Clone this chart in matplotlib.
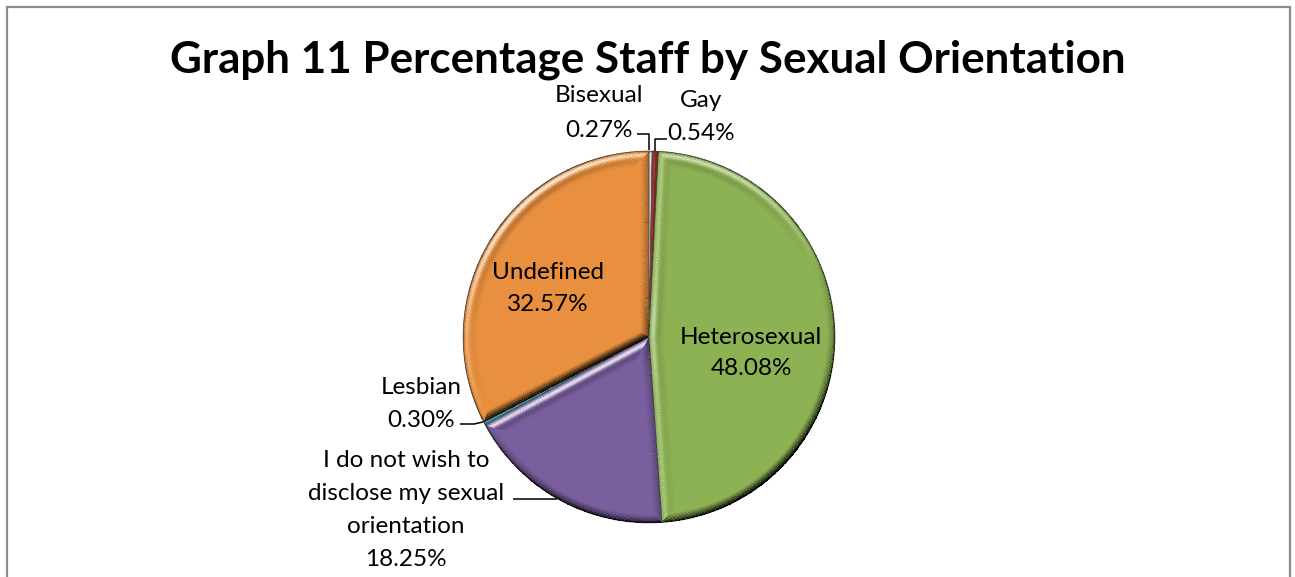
import matplotlib
matplotlib.use("Agg")
import matplotlib.pyplot as plt
import numpy as np

# staff by sexual orientation (percent)
names = ["Bisexual", "Gay", "Heterosexual",
         "I do not wish to\ndisclose my sexual\norientation", "Lesbian", "Undefined"]
values = [0.27, 0.54, 48.08, 18.25, 0.30, 32.57]
colors = ["#dde5ef", "#8e2f2c", "#8db254", "#7a5f9f", "#3a9fb6", "#e8903f"]
title = "Graph 11 Percentage Staff by Sexual Orientation"

FONT = ["Lato", "DejaVu Sans"]
W, H = 1295, 577
fig = plt.figure(figsize=(W / 100, H / 100), dpi=100, facecolor="white")
ax = fig.add_axes([0, 0, 1, 1])

# pixel-style coordinates, y measured from the top
def Y(y):
    return H - y

CX, CY, R = 649, Y(337), 186
wedges, _ = ax.pie(values, colors=colors, startangle=90, counterclock=False,
                   center=(CX, CY), radius=R, frame=True,
                   wedgeprops=dict(linewidth=0.4, edgecolor="#4a4a4a"))
ax.set_xlim(0, W); ax.set_ylim(0, H); ax.set_aspect("equal"); ax.axis("off")

# soft round bevel along rim and radial edges of every slice
nt, nr = 1440, 240
th_e = np.linspace(0, 2 * np.pi, nt + 1)
r_e = np.linspace(0, R, nr + 1)
TH, RR = np.meshgrid(th_e, r_e)
Xm, Ym = CX + RR * np.cos(TH), CY + RR * np.sin(TH)
thc = np.degrees((th_e[:-1] + th_e[1:]) / 2)
rc = (r_e[:-1] + r_e[1:]) / 2
T, Rc = np.meshgrid(thc, rc)
light = np.radians(115)
bw = 9.0
white = np.zeros((nr, nt))
black = np.zeros((nr, nt))
for w in wedges:
    t1, t2 = w.theta1, w.theta2
    span = t2 - t1
    rel = (T - t1) % 360
    inside = rel < span
    if not inside.any():
        continue
    d_rim = R - Rc
    d1 = np.where(rel < 90, Rc * np.sin(np.radians(rel)), 1e9)
    d2 = np.where(span - rel < 90, Rc * np.sin(np.radians(span - rel)), 1e9)
    d = np.minimum(d_rim, np.minimum(d1, d2))
    nrm = np.where(d == d_rim, np.radians(T),
                   np.where(d == d1, np.radians(t1 - 90), np.radians(t2 + 90)))
    L = np.cos(nrm - light)
    # thin slices get a weaker bevel so their own colour still shows
    k = min(1.0, span / 4.0) if span < 4 else 1.0
    hi = np.exp(-((d - 4.0) / 2.2) ** 2) * np.clip(L, 0, None) * 0.55 * k
    lo = np.clip(1 - d / bw, 0, 1) ** 1.4 * np.clip(-L, 0, None) * 0.75 * k
    band = np.exp(-((d - 10.0) / 3.0) ** 2) * np.clip(L, 0, None) * 0.10 * k
    edge = np.exp(-(d_rim / 1.2) ** 2) * 0.35
    white[inside] = hi[inside]
    black[inside] = np.clip(lo + band + edge, 0, 0.85)[inside]

rgb_w = np.ones((nr, nt, 4)); rgb_w[..., 3] = white
rgb_b = np.zeros((nr, nt, 4)); rgb_b[..., 3] = black
ax.pcolormesh(Xm, Ym, rgb_b, shading="flat", antialiased=False, edgecolors="none", zorder=3)
ax.pcolormesh(Xm, Ym, rgb_w, shading="flat", antialiased=False, edgecolors="none", zorder=3)
for w in wedges:
    w.set_zorder(2)


def fit_size(text, target_px, weight="normal"):
    t = fig.text(0, 0, text, fontsize=10, family=FONT, weight=weight)
    wpx = t.get_window_extent(renderer=fig.canvas.get_renderer()).width
    t.remove()
    return 10 * target_px / wpx


fs_title = fit_size(title, 957, "bold")
fs = fit_size("Heterosexual", 142)

ax.text(648, Y(73), title, fontsize=fs_title, fontweight="bold", family=FONT,
        ha="center", va="baseline", color="black")

# label layout: centre x, centre y of first line, line pitch
layout = [(599, 95, 35), (701, 100, 33), (751, 337, 31),
          (406, 460, 33), (421, 387, 33), (548, 272, 32)]
for name, v, (lx, ly, pitch) in zip(names, values, layout):
    lines = name.split("\n") + [f"{v:.2f}%"]
    for i, s in enumerate(lines):
        ax.text(lx, Y(ly + i * pitch + 7), s, fontsize=fs, family=FONT,
                ha="center", va="baseline", color="black", zorder=6)

# leader lines
leaders = [
    [(637, 134), (649, 134), (649, 150)],
    [(667, 139), (655, 139), (655, 151)],
    [(460, 424), (474, 424), (483, 422)],
    [(513, 499), (557, 499)],
]
for pts in leaders:
    xs = [p[0] for p in pts]; ys = [Y(p[1]) for p in pts]
    ax.plot(xs, ys, color="black", linewidth=1.1, zorder=6, solid_capstyle="butt")

# chart frame (bottom edge falls outside)
ax.plot([7, 7, 1290, 1290], [-5, Y(7), Y(7), -5], color="#8c8c8c", linewidth=1.6,
        solid_joinstyle="miter", zorder=7, clip_on=False)

fig.savefig("out.png", dpi=100, facecolor="white")
